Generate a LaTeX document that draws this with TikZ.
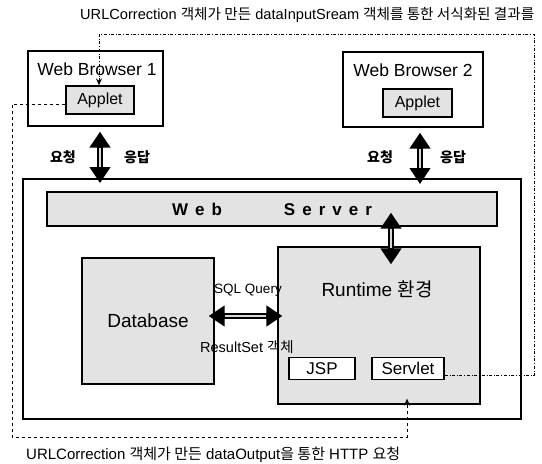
\documentclass[tikz,border=0pt]{standalone}
\usepackage{fontspec}
\setmainfont{Liberation Sans}
\newfontfamily\kr{Noto Sans CJK KR}
\usetikzlibrary{arrows.meta,calc}

\newcommand\gap{\hspace{7pt}}

\tikzset{
  box/.style={draw, line width=1.2pt, rectangle, inner sep=0pt},
  shaded/.style={box, fill=gray!22},
  plain/.style={box, fill=white},
  dblarrow/.style={line width=5.5pt,
    {Triangle[length=16pt,width=20pt]}-{Triangle[length=16pt,width=20pt]},
    postaction={draw=gray!30, line width=2pt, -, shorten <=16pt, shorten >=16pt}},
  resultline/.style={dash dot, line width=1pt},
  requestline/.style={dashed, line width=1pt},
  txt/.style={font=\fontsize{15}{17}\selectfont, inner sep=0pt},
  krlbl/.style={font=\kr\bfseries\fontsize{14}{16}\selectfont}
}

\begin{document}
\begin{tikzpicture}[x=1pt,y=-1pt]
    \useasboundingbox (0,0) rectangle (542,464);
    % Browsers
    \node[box, minimum width=135pt, minimum height=75pt] (b1) at (95.5,88.5) {};
    \node[font=\fontsize{17.5}{20}\selectfont] (b1t) at (97,69) {Web Browser 1};
    \node[shaded, minimum width=68pt, minimum height=28pt, font=\fontsize{16}{18}\selectfont] (ap1) at (100,100) {Applet};
    \node[box, minimum width=140pt, minimum height=75pt] (b2) at (413,89.5) {};
    \node[font=\fontsize{17.5}{20}\selectfont] (b2t) at (413,70) {Web Browser 2};
    \node[shaded, minimum width=69pt, minimum height=28pt, font=\fontsize{16}{18}\selectfont] (ap2) at (417.5,103) {Applet};
    % Server side
    \node[box, line width=1.8pt, minimum width=498pt, minimum height=240pt] (was) at (272,299) {};
    \node[shaded, minimum width=450pt, minimum height=34pt, font=\bfseries\fontsize{17}{20}\selectfont] (server) at (272,209)
        {W\gap e\gap b\hspace{62pt}S\gap e\gap r\gap v\gap e\gap r};
    \node[shaded, minimum width=132pt, minimum height=126pt, font=\fontsize{19}{22}\selectfont] (db) at (148,321) {Database};
    \node[shaded, minimum width=202pt, minimum height=157pt] (rt) at (379,325.5) {};
    \node[font=\fontsize{19}{22}\selectfont] (rtt) at (377,289) {Runtime {\kr 환경}};
    \node[plain, minimum width=66pt, minimum height=22pt, font=\fontsize{17}{20}\selectfont] (jsp) at (322,368.5) {JSP};
    \node[plain, minimum width=72pt, minimum height=22pt, font=\fontsize{17}{20}\selectfont] (sv) at (408,368.5) {Servlet};
    % Request / response arrows
    \draw[dblarrow] ($(ap1.south |- b1.south)+(0,5)$) -- ($(ap1.south |- was.north)+(0,5)$);
    \draw[dblarrow] ($(ap2.south |- b2.south)+(2.5,5)$) -- ($(ap2.south |- was.north)+(2.5,6)$);
    \draw[dblarrow] ($(server.south)+(119,-14)$) -- ($(rt.north)+(12,18)$);
    \draw[dblarrow] ($(db.east)+(-6,-5)$) -- ($(rt.west)+(5,-9.5)$);
    \node[krlbl] (req1) at (63,157) {요청};
    \node[krlbl] (res1) at (137,157) {응답};
    \node[krlbl] (req2) at (380,157) {요청};
    \node[krlbl] (res2) at (453,157) {응답};
    \node[font=\fontsize{13.5}{16}\selectfont] (sql) at (248,290) {SQL Query};
    \node[font=\fontsize{14.5}{17}\selectfont] (rs) at (247,347) {ResultSet {\kr 객체}};
    % Formatted result: Servlet -> Applet 1
    \coordinate (tr) at (534,34);
    \coordinate (tl) at (99,34);
    \draw[resultline, -{Stealth[length=7pt,width=6pt]}] ($(sv.east)+(0,7)$) -| (tr) -- (tl) -- (tl |- ap1.north);
    % HTTP request: Applet 1 -> Servlet
    \coordinate (bl) at (12,437);
    \coordinate (br) at (407,437);
    \draw[requestline, -{Stealth[length=7pt,width=6pt]}] ($(ap1.west)+(0,4)$) -| (bl) -- (br) -- ($(br |- rt.south)+(0,-6)$);
    % Captions
    \node[txt, anchor=west, font=\fontsize{14.6}{17}\selectfont] (top) at (80,15) {URLCorrection {\kr 객체가 만든} dataInputSream {\kr 객체를 통한 서식화된 결과를}};
    \node[txt, anchor=west] (bottom) at (26,455) {URLCorrection {\kr 객체가 만든} dataOutput{\kr 을 통한} HTTP {\kr 요청}};
\end{tikzpicture}
\end{document}
